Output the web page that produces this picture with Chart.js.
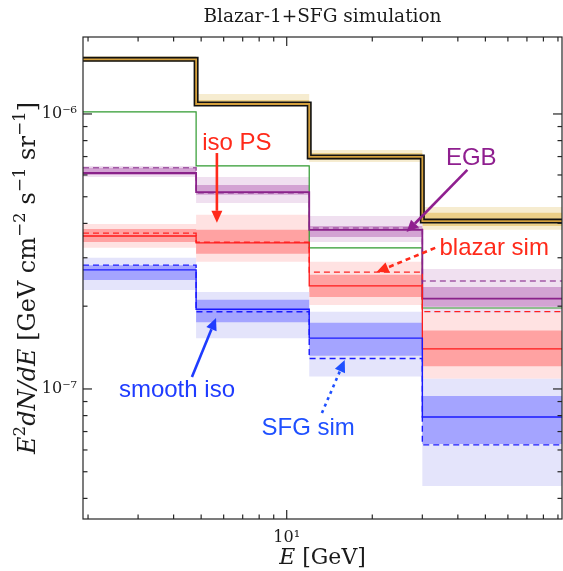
<!DOCTYPE html>
<html>
<head>
<meta charset="utf-8">
<script src="https://cdn.jsdelivr.net/npm/chart.js@4.4.1/dist/chart.umd.min.js"></script>
<style>
  html, body { margin: 0; padding: 0; background: #ffffff; }
  #wrap { width: 563px; height: 571px; }
</style>
</head>
<body>
<div id="wrap"><canvas id="c" width="563" height="571"></canvas></div>
<script>
// ---- energy binning [GeV] ----
const binEdges = [1.92, 4.8, 12, 30, 100];

// ---- total emission (black/gold step) with its bands ----
const totalFlux = [1.58e-6, 1.087e-6, 6.98e-7, 4.08e-7];
const total68Hi = [1.605e-6, 1.124e-6, 7.21e-7, 4.37e-7];
const total68Lo = [1.565e-6, 1.078e-6, 6.81e-7, 3.91e-7];
const total95Hi = [1.625e-6, 1.182e-6, 7.40e-7, 4.59e-7];
const total95Lo = [1.546e-6, 1.069e-6, 6.69e-7, 3.79e-7];

// ---- sum of templates (green) ----
const templateSum = [1.017e-6, 6.47e-7, 3.26e-7, 1.97e-7];

// ---- EGB (purple) ----
const egbFit   = [6.10e-7, 5.20e-7, 3.79e-7, 2.13e-7];
const egbSim   = [6.37e-7, 5.16e-7, 3.85e-7, 2.47e-7];
const egb68Hi  = [6.37e-7, 5.52e-7, 3.91e-7, 2.35e-7];
const egb68Lo  = [6.00e-7, 5.08e-7, 3.57e-7, 1.99e-7];
const egb95Hi  = [6.47e-7, 5.90e-7, 4.26e-7, 2.73e-7];
const egb95Lo  = [5.90e-7, 4.75e-7, 3.42e-7, 1.78e-7];

// ---- iso PS / blazar (red) ----
const psFit    = [3.60e-7, 3.40e-7, 2.37e-7, 1.40e-7];
const blazarSim= [3.69e-7, 3.42e-7, 2.66e-7, 1.91e-7];
const ps68Hi   = [3.82e-7, 3.79e-7, 2.60e-7, 1.63e-7];
const ps68Lo   = [3.42e-7, 3.10e-7, 2.16e-7, 1.21e-7];
const ps95Hi   = [3.98e-7, 4.30e-7, 2.90e-7, 1.89e-7];
const ps95Lo   = [3.26e-7, 2.90e-7, 2.02e-7, 1.09e-7];

// ---- smooth iso / SFG (blue) ----
const isoFit   = [2.71e-7, 1.95e-7, 1.53e-7, 7.91e-8];
const sfgSim   = [2.82e-7, 1.91e-7, 1.29e-7, 6.26e-8];
const iso68Hi  = [2.82e-7, 2.11e-7, 1.74e-7, 9.43e-8];
const iso68Lo  = [2.49e-7, 1.75e-7, 1.32e-7, 6.31e-8];
const iso95Hi  = [3.00e-7, 2.25e-7, 1.91e-7, 1.09e-7];
const iso95Lo  = [2.29e-7, 1.53e-7, 1.11e-7, 4.44e-8];

// ---- axes ----
const xRange = [1.92, 93];
const yRange = [3.366e-8, 1.905e-6];
const xMajorTicks = [10];
const xMajorLabels = ['10\u00B9'];
const xMinorTicks = [2, 3, 4, 5, 6, 7, 8, 9, 20, 30, 40, 50, 60, 70, 80, 90];
const yMajorTicks = [1e-7, 1e-6];
const yMajorLabels = ['10\u207B\u2077', '10\u207B\u2076'];
const yMinorTicks = [4e-8, 5e-8, 6e-8, 7e-8, 8e-8, 9e-8,
                     2e-7, 3e-7, 4e-7, 5e-7, 6e-7, 7e-7, 8e-7, 9e-7];

// ---- annotations (data coordinates) ----
const notes = [
  { text: 'iso PS',     color: '#ff2a1a', at: [6.68, 7.40e-7], from: [5.68, 7.21e-7], to: [5.68, 4.02e-7], dash: [] },
  { text: 'EGB',        color: '#8f1f8f', at: [44.6, 6.52e-7], from: [43.2, 6.26e-7], to: [26.4, 3.72e-7], dash: [] },
  { text: 'blazar sim', color: '#ff2a1a', at: [53.7, 3.07e-7], from: [33.3, 3.26e-7], to: [20.7, 2.66e-7], dash: [5, 4] },
  { text: 'smooth iso', color: '#1f3cff', at: [4.11, 9.35e-8], from: [4.64, 1.106e-7], to: [5.64, 1.81e-7], dash: [] },
  { text: 'SFG sim',    color: '#1f50ff', at: [11.9, 6.81e-8], from: [13.3, 8.18e-8], to: [16.0, 1.275e-7], dash: [3, 4] }
];

// step points: each value spans [edge_i, edge_{i+1}]
function steps(vals) {
  const pts = vals.map((v, i) => ({ x: binEdges[i], y: v }));
  pts.push({ x: binEdges[vals.length], y: vals[vals.length - 1] });
  return pts;
}

function band(hi, lo, color, order) {
  return [
    { data: steps(hi), stepped: true, borderWidth: 0, borderColor: 'rgba(0,0,0,0)',
      backgroundColor: color, fill: '+1', pointRadius: 0, order: order },
    { data: steps(lo), stepped: true, borderWidth: 0, borderColor: 'rgba(0,0,0,0)',
      fill: false, pointRadius: 0, order: order }
  ];
}

function stepLine(vals, color, width, dash, order) {
  return { data: steps(vals), stepped: true, borderColor: color, borderWidth: width,
           borderDash: dash, fill: false, pointRadius: 0, order: order,
           borderCapStyle: 'butt', borderJoinStyle: 'miter' };
}

const datasets = [].concat(
  band(total95Hi, total95Lo, '#f6ecd0', 20),
  band(total68Hi, total68Lo, '#ebcf88', 19),
  band(egb95Hi, egb95Lo, '#f0e0f0', 18),
  band(egb68Hi, egb68Lo, '#d3a3d3', 17),
  band(ps95Hi, ps95Lo, '#ffe2e2', 16),
  band(ps68Hi, ps68Lo, '#ffa2a2', 15),
  band(iso95Hi, iso95Lo, '#e4e4fb', 14),
  band(iso68Hi, iso68Lo, '#a4a4ff', 13),
  [
    stepLine(templateSum, '#2f9a2f', 1.2, [], 12),
    stepLine(egbSim, '#a25aa6', 1.5, [6, 4], 11),
    stepLine(egbFit, '#8a228a', 1.8, [], 10),
    stepLine(blazarSim, '#ff2020', 1.3, [6, 4], 9),
    stepLine(psFit, '#ff1a1a', 1.3, [], 8),
    stepLine(sfgSim, '#1a1aff', 1.4, [6, 4], 7),
    stepLine(isoFit, '#1a1aff', 1.4, [], 6),
    stepLine(totalFlux, '#111111', 5, [], 5),
    stepLine(totalFlux, '#d4a03c', 1.8, [], 4)
  ]
);

// frame with inward ticks on all four sides
const framePlugin = {
  id: 'frame',
  afterDraw(chart) {
    const { ctx, chartArea: a, scales: { x, y } } = chart;
    ctx.save();
    ctx.strokeStyle = '#262626';
    ctx.lineWidth = 1.2;
    const tick = (x0, y0, x1, y1) => { ctx.beginPath(); ctx.moveTo(x0, y0); ctx.lineTo(x1, y1); ctx.stroke(); };
    const major = 9, minor = 4.5;
    xMajorTicks.forEach(v => { const p = x.getPixelForValue(v); tick(p, a.bottom, p, a.bottom - major); tick(p, a.top, p, a.top + major); });
    xMinorTicks.forEach(v => { const p = x.getPixelForValue(v); tick(p, a.bottom, p, a.bottom - minor); tick(p, a.top, p, a.top + minor); });
    yMajorTicks.forEach(v => { const p = y.getPixelForValue(v); tick(a.left, p, a.left + major, p); tick(a.right, p, a.right - major, p); });
    yMinorTicks.forEach(v => { const p = y.getPixelForValue(v); tick(a.left, p, a.left + minor, p); tick(a.right, p, a.right - minor, p); });
    ctx.strokeRect(a.left, a.top, a.right - a.left, a.bottom - a.top);
    ctx.restore();
  }
};

// arrows and their labels
const notesPlugin = {
  id: 'notes',
  afterDatasetsDraw(chart) {
    const { ctx, scales: { x, y } } = chart;
    notes.forEach(n => {
      const x0 = x.getPixelForValue(n.from[0]), y0 = y.getPixelForValue(n.from[1]);
      const x1 = x.getPixelForValue(n.to[0]),   y1 = y.getPixelForValue(n.to[1]);
      const ang = Math.atan2(y1 - y0, x1 - x0);
      const head = 12, half = 5.5;
      const bx = x1 - head * Math.cos(ang), by = y1 - head * Math.sin(ang);
      ctx.save();
      ctx.strokeStyle = n.color; ctx.fillStyle = n.color;
      ctx.lineWidth = 2.6;
      ctx.setLineDash(n.dash);
      ctx.beginPath(); ctx.moveTo(x0, y0); ctx.lineTo(bx, by); ctx.stroke();
      ctx.setLineDash([]);
      ctx.beginPath();
      ctx.moveTo(x1, y1);
      ctx.lineTo(bx + half * Math.sin(ang), by - half * Math.cos(ang));
      ctx.lineTo(bx - half * Math.sin(ang), by + half * Math.cos(ang));
      ctx.closePath(); ctx.fill();
      ctx.font = "24px 'Liberation Sans', Arial, sans-serif";
      ctx.textAlign = 'center'; ctx.textBaseline = 'alphabetic';
      ctx.fillText(n.text, x.getPixelForValue(n.at[0]), y.getPixelForValue(n.at[1]));
      ctx.restore();
    });
  }
};

// axis titles with italic symbols and superscripts
function richText(ctx, parts, size) {
  const fam = "'DejaVu Serif', serif";
  const fontOf = p => (p.it ? 'italic ' : '') + (p.sup ? (size * 0.7) : size) + 'px ' + fam;
  let w = 0;
  parts.forEach(p => { ctx.font = fontOf(p); p.w = ctx.measureText(p.t).width; w += p.w; });
  let cx = -w / 2;
  parts.forEach(p => {
    ctx.font = fontOf(p);
    ctx.fillText(p.t, cx, p.sup ? -size * 0.42 : 0);
    cx += p.w;
  });
}
const axisTitlePlugin = {
  id: 'axisTitles',
  afterDraw(chart) {
    const { ctx, chartArea: a } = chart;
    ctx.save();
    ctx.fillStyle = '#1a1a1a';
    ctx.textAlign = 'left'; ctx.textBaseline = 'alphabetic';
    ctx.save();
    ctx.translate((a.left + a.right) / 2, 564);
    richText(ctx, [{ t: 'E', it: true }, { t: ' [GeV]' }], 22);
    ctx.restore();
    ctx.save();
    ctx.translate(35, (a.top + a.bottom) / 2);
    ctx.rotate(-Math.PI / 2);
    richText(ctx, [
      { t: 'E', it: true }, { t: '2', sup: true }, { t: 'dN/dE', it: true },
      { t: ' [GeV cm' }, { t: '\u22122', sup: true }, { t: ' s' }, { t: '\u22121', sup: true },
      { t: ' sr' }, { t: '\u22121', sup: true }, { t: ']' }
    ], 24);
    ctx.restore();
    ctx.restore();
  }
};

new Chart(document.getElementById('c'), {
  type: 'line',
  data: { datasets: datasets },
  options: {
    responsive: false,
    animation: false,
    devicePixelRatio: 1,
    layout: { padding: { left: 0, right: 1, top: 0, bottom: 0 } },
    plugins: {
      legend: { display: false },
      tooltip: { enabled: false },
      title: {
        display: true,
        text: 'Blazar-1+SFG simulation',
        fullSize: false,
        color: '#1a1a1a',
        font: { family: "'DejaVu Serif', serif", size: 18.5, weight: 'normal' },
        padding: { top: 6, bottom: 8.8 }
      }
    },
    scales: {
      x: {
        type: 'logarithmic',
        position: 'bottom',
        bounds: 'data',
        min: xRange[0], max: xRange[1],
        grid: { display: false, drawTicks: false },
        border: { display: false },
        afterBuildTicks: s => { s.ticks = xMajorTicks.map(v => ({ value: v })); },
        afterFit: s => { s.height = 52; },
        ticks: {
          padding: 9,
          color: '#1a1a1a',
          font: { family: "'DejaVu Serif', serif", size: 16 },
          callback: v => { const i = xMajorTicks.indexOf(v); return i >= 0 ? xMajorLabels[i] : ''; }
        }
      },
      y: {
        type: 'logarithmic',
        position: 'left',
        bounds: 'data',
        min: yRange[0], max: yRange[1],
        grid: { display: false, drawTicks: false },
        border: { display: false },
        afterBuildTicks: s => { s.ticks = yMajorTicks.map(v => ({ value: v })); },
        afterFit: s => { s.width = 83; },
        ticks: {
          padding: 6,
          color: '#1a1a1a',
          font: { family: "'DejaVu Serif', serif", size: 16 },
          callback: v => { const i = yMajorTicks.findIndex(t => Math.abs(t - v) / t < 1e-6); return i >= 0 ? yMajorLabels[i] : ''; }
        }
      }
    }
  },
  plugins: [notesPlugin, framePlugin, axisTitlePlugin]
});
</script>
</body>
</html>
